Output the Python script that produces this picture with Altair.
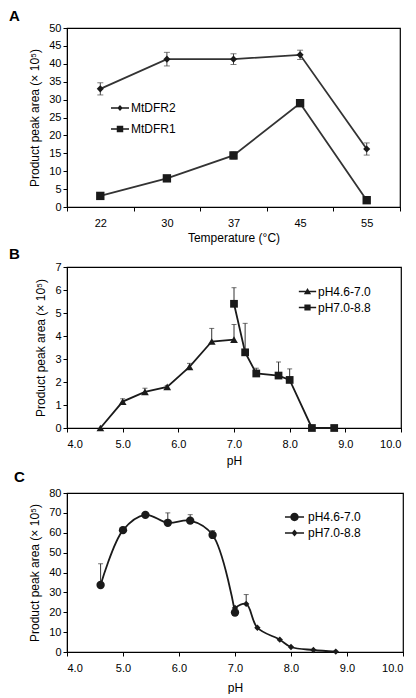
import altair as alt
import pandas as pd

FONT = "Liberation Sans"
INK = "#1a1a1a"

# ---------------- Panel A: temperature ----------------
temps = ["22", "30", "37", "45", "55"]
mtdfr2 = [33.0, 41.3, 41.3, 42.5, 16.2]
mtdfr2_err = [1.7, 1.9, 1.5, 1.3, 1.7]
mtdfr1 = [3.1, 8.0, 14.4, 29.0, 1.9]
mtdfr1_err = [0.0, 0.0, 1.0, 0.0, 0.0]

# ---------------- Panel B: pH ----------------
b_ph_low = [4.6, 5.0, 5.4, 5.8, 6.2, 6.6, 7.0]
b_val_low = [0.0, 1.15, 1.57, 1.79, 2.66, 3.76, 3.84]
b_err_low = [0.0, 0.12, 0.16, 0.06, 0.15, 0.57, 0.66]
b_ph_high = [7.0, 7.2, 7.4, 7.8, 8.0, 8.4, 8.8]
b_val_high = [5.40, 3.29, 2.37, 2.28, 2.09, 0.0, 0.0]
b_err_high = [0.70, 1.26, 0.23, 0.59, 0.48, 0.0, 0.0]

# ---------------- Panel C: pH ----------------
c_ph_low = [4.6, 5.0, 5.4, 5.8, 6.2, 6.6, 7.0]
c_val_low = [33.7, 61.3, 69.0, 65.0, 66.1, 58.9, 19.9]
c_err_low = [10.7, 1.5, 0.5, 5.0, 3.0, 2.2, 1.0]
c_ph_high = [7.0, 7.2, 7.4, 7.8, 8.0, 8.4, 8.8]
c_val_high = [22.2, 24.2, 12.2, 6.2, 2.5, 1.0, 0.2]
c_err_high = [0.0, 4.7, 0.0, 0.0, 0.0, 0.0, 0.0]

panel_letters = ["A", "B", "C"]
ph_ticks = [4, 5, 6, 7, 8, 9, 10]
yticks_A = list(range(0, 51, 5))
yticks_B = list(range(0, 8))
yticks_C = list(range(0, 81, 10))
YTITLE = "Product peak area (\u00d7 10\u2075)"

# legend symbols: filled bar (line) plus marker, unit coords, all clockwise
BAR = "M-1,-0.085H1V0.085H-1Z"
P_TRI = BAR + "M0,-0.4L0.42,0.32H-0.42Z"
P_SQ = BAR + "M-0.36,-0.36H0.36V0.36H-0.36Z"
P_DIA = BAR + "M0,-0.34L0.3,0L0,0.34L-0.3,0Z"
BARC = "M-1.27,-0.1H1.27V0.1H-1.27Z"
P_CIR_C = BARC + "M0.56,0A0.56,0.56,0,1,1,-0.56,0A0.56,0.56,0,1,1,0.56,0Z"
P_DIA_C = BARC + "M0,-0.47L0.4,0L0,0.47L-0.4,0Z"


def make_df(xs_list, ys_list, errs_list, names):
    rows = []
    for xs, ys, es, n in zip(xs_list, ys_list, errs_list, names):
        for xv, yv, ev in zip(xs, ys, es):
            rows.append({"x": xv, "y": yv, "err": ev, "lo": yv - ev, "hi": yv + ev,
                         "series": n, "key": n})
    return pd.DataFrame(rows)


def ymaker(domain, vals):
    def y(field):
        return alt.Y(field, scale=alt.Scale(domain=domain, nice=False),
                     axis=alt.Axis(title=YTITLE, values=vals, labelOverlap=False, tickSize=4,
                                   labelPadding=2, titlePadding=7))
    return y


def xaxis(title, tpad, **kw):
    return alt.Axis(title=title, labelOverlap=False, tickSize=4, labelPadding=6,
                    titlePadding=tpad, labelAngle=0, **kw)


def legend_layer(base, xenc, y, names, paths, lx, ly, size, loff, rowpad):
    return base.mark_point(filled=True, size=0, color=INK).encode(
        x=xenc, y=y("y:Q"),
        shape=alt.Shape("key:N", scale=alt.Scale(domain=names, range=paths),
                        legend=alt.Legend(
                            orient="none", legendX=lx, legendY=ly, title=None,
                            symbolSize=size, rowPadding=rowpad, labelOffset=loff,
                            labelFont=FONT, labelFontSize=12, labelColor="black",
                            symbolOpacity=1)),
    )


def letter_layer(t, dx, dy):
    return alt.Chart(pd.DataFrame({"t": [t]})).mark_text(
        font=FONT, fontSize=15, fontWeight="bold", color="black",
        align="left", baseline="top"
    ).encode(text="t:N", x=alt.value(dx), y=alt.value(dy))


def points(base, xenc, y, names, shapes, sizes):
    return base.mark_point(filled=True, color=INK, opacity=1).encode(
        x=xenc, y=y("y:Q"),
        shape=alt.Shape("series:N", scale=alt.Scale(domain=names, range=shapes), legend=None),
        size=alt.Size("series:N", scale=alt.Scale(domain=names, range=sizes), legend=None),
    )


# ---------- Panel A ----------
namesA = ["MtDFR2", "MtDFR1"]
dfA = make_df([temps, temps], [mtdfr2, mtdfr1], [mtdfr2_err, mtdfr1_err], namesA)
xA = alt.X("x:O", sort=temps,
           scale=alt.Scale(type="band", paddingInner=0, paddingOuter=0),
           axis=xaxis("Temperature (\u00b0C)", 4, tickBand="extent"))
yA = ymaker([0, 50], yticks_A)
baseA = alt.Chart(dfA)
errA = baseA.transform_filter("datum.err > 0")
A = alt.layer(
    baseA.mark_line(color="#333", strokeWidth=1.8).encode(x=xA, y=yA("y:Q"), detail="series:N"),
    errA.mark_rule(color="#444", strokeWidth=1).encode(x=xA, y=yA("lo:Q"), y2="hi:Q"),
    errA.mark_tick(color="#444", orient="horizontal", size=6, thickness=1).encode(x=xA, y=yA("hi:Q")),
    errA.mark_tick(color="#444", orient="horizontal", size=6, thickness=1).encode(x=xA, y=yA("lo:Q")),
    points(baseA, xA, yA, namesA, ["diamond", "square"], [50, 70]),
    legend_layer(baseA, xA, yA, namesA, [P_DIA, P_SQ], 43, 70, 324, 1, 4),
    letter_layer(panel_letters[0], -58, -19),
).resolve_scale(shape="independent").properties(width=333, height=179)

# ---------- Panel B ----------
namesB = ["pH4.6-7.0", "pH7.0-8.8"]
dfB = make_df([b_ph_low, b_ph_high], [b_val_low, b_val_high], [b_err_low, b_err_high], namesB)
xB = alt.X("x:Q", scale=alt.Scale(domain=[4, 10], nice=False),
           axis=xaxis("pH", 6, values=ph_ticks, format=".1f"))
yB = ymaker([0, 7], yticks_B)
baseB = alt.Chart(dfB)
errB = baseB.transform_filter("datum.err > 0")
B = alt.layer(
    baseB.mark_line(color=INK, strokeWidth=1.8).encode(x=xB, y=yB("y:Q"), detail="series:N"),
    errB.mark_rule(color="#333", strokeWidth=1).encode(x=xB, y=yB("y:Q"), y2="hi:Q"),
    errB.mark_tick(color="#333", orient="horizontal", size=5, thickness=1).encode(x=xB, y=yB("hi:Q")),
    points(baseB, xB, yB, namesB, ["triangle-up", "square"], [60, 60]),
    legend_layer(baseB, xB, yB, namesB, [P_TRI, P_SQ], 231, 15, 300, 1, 0),
    letter_layer(panel_letters[1], -58, -20),
).resolve_scale(shape="independent").properties(width=334, height=161)

# ---------- Panel C ----------
namesC = ["pH4.6-7.0", "pH7.0-8.8"]
dfC = make_df([c_ph_low, c_ph_high], [c_val_low, c_val_high], [c_err_low, c_err_high], namesC)
xC = alt.X("x:Q", scale=alt.Scale(domain=[4, 10], nice=False),
           axis=xaxis("pH", 9, values=ph_ticks, format=".1f"))
yC = ymaker([0, 80], yticks_C)
baseC = alt.Chart(dfC)
errC = baseC.transform_filter("datum.err > 0")
C = alt.layer(
    baseC.mark_line(color=INK, strokeWidth=1.8, interpolate="catmull-rom").encode(
        x=xC, y=yC("y:Q"), detail="series:N"),
    errC.mark_rule(color="#333", strokeWidth=1).encode(x=xC, y=yC("y:Q"), y2="hi:Q"),
    errC.mark_tick(color="#333", orient="horizontal", size=5, thickness=1).encode(x=xC, y=yC("hi:Q")),
    points(baseC, xC, yC, namesC, ["circle", "diamond"], [70, 40]),
    legend_layer(baseC, xC, yC, namesC, [P_CIR_C, P_DIA_C], 219, 15.5, 225, 5, -2),
    letter_layer(panel_letters[2], -53, -23),
).resolve_scale(shape="independent").properties(width=336, height=159)

chart = alt.vconcat(A, B, C, spacing=2).resolve_scale(
    x="independent", y="independent", shape="independent", size="independent"
).resolve_legend(shape="independent").properties(
    padding={"left": 0, "top": 0, "right": 0, "bottom": 0}
).configure(background="white").configure_view(
    stroke="black", strokeWidth=1.2
).configure_axis(
    domainColor="black", tickColor="black", labelColor="black", titleColor="black",
    labelFont=FONT, titleFont=FONT, labelFontSize=11, titleFontSize=12,
    titleFontWeight="normal", grid=False, labelOverlap=False,
)

chart.save("out.html", embed_options={"renderer": "svg", "actions": False})
